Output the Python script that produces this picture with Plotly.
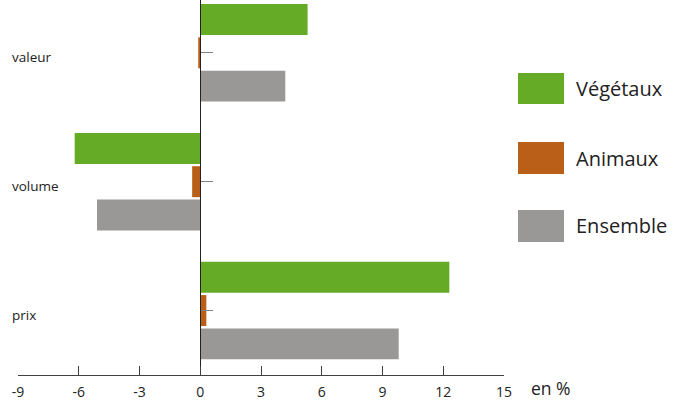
import plotly.graph_objects as go

categories = ["valeur", "volume", "prix"]
vegetaux = [5.3, -6.2, 12.3]
animaux = [-0.1, -0.4, 0.3]
ensemble = [4.2, -5.1, 9.8]
series_names = ["Végétaux", "Animaux", "Ensemble"]
colors = ["#66AB26", "#B95F17", "#999896"]
x_ticks = [-9, -6, -3, 0, 3, 6, 9, 12, 15]

FONT = "Open Sans"

fig = go.Figure()
# traces added bottom-first so Végétaux sits on top of each group
for name, vals, col in reversed(list(zip(series_names, [vegetaux, animaux, ensemble], colors))):
    fig.add_trace(go.Bar(y=categories, x=vals, orientation="h", name=name,
                         marker=dict(color=col, line=dict(width=0)), showlegend=False))

cat_order = list(reversed(categories))

fig.update_layout(
    width=680, height=401,
    margin=dict(l=18, r=176, t=0, b=26),
    paper_bgcolor="white", plot_bgcolor="white",
    barmode="group", bargap=0.225, bargroupgap=0.07,
    font=dict(family=FONT, color="#222222"),
    xaxis=dict(range=[-9, 15], tickvals=x_ticks, ticktext=[str(t) for t in x_ticks],
               showgrid=False, zeroline=False, showline=True, linecolor="#404040", linewidth=1.3,
               ticks="inside", ticklen=9, tickcolor="#404040", tickwidth=1.3,
               tickfont=dict(size=14, family=FONT, color="#222222"), ticklabelstandoff=4,
               fixedrange=True),
    yaxis=dict(categoryorder="array", categoryarray=cat_order, range=[-0.5, 2.41],
               anchor="free", position=0.375, showgrid=False, zeroline=False,
               showline=True, linecolor="#222222", linewidth=1.3,
               ticks="inside", ticklen=12, tickcolor="#808080", tickwidth=1.3,
               showticklabels=False, fixedrange=True),
)

# category labels at far left
for c in categories:
    fig.add_annotation(x=-0.016, xref="paper", y=c, yref="y", text=c, showarrow=False,
                       xanchor="left", yanchor="middle", yshift=-4,
                       font=dict(size=13.5, family=FONT, color="#222222"))

# unit label
fig.add_annotation(x=1.052, xref="paper", y=-0.035, yref="paper", text="en %", showarrow=False,
                   xanchor="left", yanchor="middle", font=dict(size=17.5, family=FONT, color="#222222"))

# custom legend
leg_y = [(0.8053, 0.7227), (0.6213, 0.536), (0.44, 0.3547)]
for (name, col), (y1, y0) in zip(zip(series_names, colors), leg_y):
    fig.add_shape(type="rect", xref="paper", yref="paper", x0=1.0288, x1=1.1235, y0=y0, y1=y1,
                  fillcolor=col, line=dict(width=0))
    fig.add_annotation(x=1.144, xref="paper", y=(y0 + y1) / 2, yref="paper", text=name,
                       showarrow=False, xanchor="left", yanchor="middle",
                       font=dict(size=20, family=FONT, color="#222222"))

fig.write_html("out.html", config={"displayModeBar": False},
               post_script="document.body.style.margin='0';")
